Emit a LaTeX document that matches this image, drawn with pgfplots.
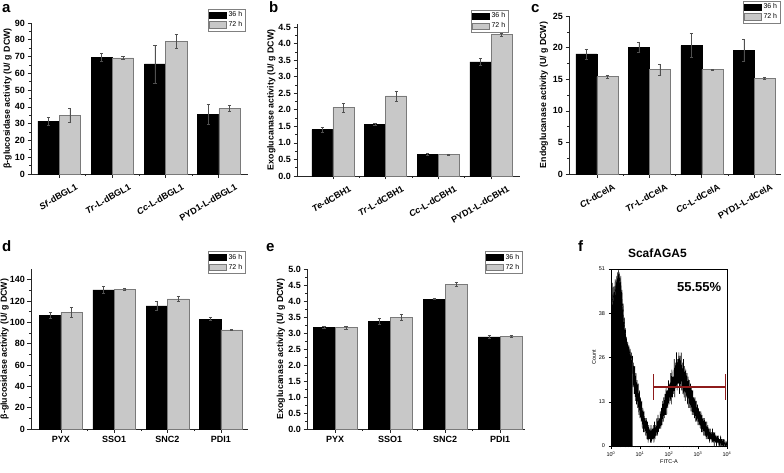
\documentclass[border=0pt]{standalone}
\usepackage{fontspec}
\setmainfont{Liberation Sans}
\usepackage{pgfplots}
\pgfplotsset{compat=1.18}
\definecolor{barlight}{HTML}{C8C8C8}
\definecolor{barline}{HTML}{7A7A7A}
\definecolor{errgray}{HTML}{505050}
\definecolor{gatered}{HTML}{8E1B1B}
\pgfplotsset{
  /pgfplots/ybar legend/.style={/pgfplots/legend image code/.code={\draw[##1,/tikz/.cd] (0pt,-3.1pt) rectangle (17pt,3.1pt);}},
  barpanel/.style={
    scale only axis,
    ybar=0pt,
    bar width=0.4,
    axis x line*=bottom, axis y line*=left,
    axis line style={black!85, line width=0.6pt, -},
    tick style={black!85, line width=0.6pt},
    tick align=outside,
    major tick length=3.5pt, minor tick length=2pt,
    xtick={0,1,2,3}, minor xtick={0.5,1.5,2.5},
    ymin=0,
    tick label style={font=\bfseries\fontsize{9}{10}\selectfont},
    yticklabel style={xshift=1pt},
    label style={font=\bfseries\fontsize{8.8}{10}\selectfont},
    /pgf/number format/assume math mode=true,
    minor y tick num=1,
    legend style={draw=gray, line width=0.4pt, font=\fontsize{7}{7}\selectfont, inner sep=0.6pt, row sep=-0.8pt, anchor=north east},
    legend cell align=left,
    clip=false,
  },
  ylabpos/.style={ylabel style={at={(axis description cs:#1,0.5)}, anchor=center, rotate=0}},
  rotlabels/.style={xticklabel style={xshift=17pt, yshift=-1pt, rotate=30, anchor=north east}},
  darkbar/.style={fill=black, draw=black, line width=0.5pt,
    /pgfplots/error bars/y dir=both, /pgfplots/error bars/y explicit,
    /pgfplots/error bars/error bar style={errgray, line width=0.5pt},
    /pgfplots/error bars/error mark options={rotate=90, errgray, mark size=1.6pt, line width=0.5pt}},
  lightbar/.style={fill=barlight, draw=barline, line width=0.5pt,
    /pgfplots/error bars/y dir=both, /pgfplots/error bars/y explicit,
    /pgfplots/error bars/error bar style={errgray, line width=0.5pt},
    /pgfplots/error bars/error mark options={rotate=90, errgray, mark size=1.6pt, line width=0.5pt}},
}
\begin{document}
\begin{tikzpicture}
\useasboundingbox (0,0) rectangle (784pt,472pt);
% ---------- a
\begin{axis}[barpanel, rotlabels, ylabpos=-0.108, at={(31pt,298pt)}, anchor=south west,
  width=217pt, height=151pt, xmin=-0.53, xmax=3.55, ymax=90,
  ytick={0,10,...,90},
  xticklabels={\textit{Sf}-dBGL1,\textit{Tr}-L-dBGL1,\textit{Cc}-L-dBGL1,PYD1-L-dBGL1},
  ylabel={β-glucosidase activity (U/ g DCW)},
  legend style={at={(0.986,1.093)}}]
\addplot[darkbar] coordinates {(0,31.5)+-(0,2.4) (1,69.7)+-(0,2.5) (2,65.6)+-(0,11.4) (3,35.5)+-(0,6)};
\addplot[lightbar] coordinates {(0,35)+-(0,4.2) (1,69.2)+-(0,1) (2,79)+-(0,4) (3,39)+-(0,1.8)};
\legend{36 h,72 h}
\end{axis}
% ---------- b
\begin{axis}[barpanel, rotlabels, ylabpos=-0.115, at={(297pt,296pt)}, anchor=south west,
  width=223pt, height=152.3pt, xmin=-0.68, xmax=3.55, ymax=4.6,
  ytick={0,0.5,1,1.5,2,2.5,3,3.5,4,4.5},
  yticklabel style={/pgf/number format/.cd, fixed, fixed zerofill, precision=1},
  xticklabels={\textit{Te}-dCBH1,\textit{Tr}-L-dCBH1,\textit{Cc}-L-dCBH1,PYD1-L-dCBH1},
  ylabel={Exoglucanase activity (U/ g DCW)},
  legend style={at={(0.946,1.09)}}]
\addplot[darkbar] coordinates {(0,1.4)+-(0,0.07) (1,1.56)+-(0,0.04) (2,0.65)+-(0,0.03) (3,3.45)+-(0,0.1)};
\addplot[lightbar] coordinates {(0,2.07)+-(0,0.13) (1,2.42)+-(0,0.15) (2,0.65)+-(0,0.02) (3,4.27)+-(0,0.04)};
\legend{36 h,72 h}
\end{axis}
% ---------- c
\begin{axis}[barpanel, rotlabels, ylabpos=-0.118, at={(569pt,298pt)}, anchor=south west,
  width=212pt, height=158pt, xmin=-0.53, xmax=3.51, ymax=25,
  ytick={0,5,...,25},
  xticklabels={\textit{Ct}-dCelA,\textit{Tr}-L-dCelA,\textit{Cc}-L-dCelA,PYD1-L-dCelA},
  ylabel={Endoglucanase activity (U/ g DCW)},
  legend style={at={(0.995,1.095)}}]
\addplot[darkbar] coordinates {(0,19)+-(0,0.8) (1,20)+-(0,0.8) (2,20.3)+-(0,1.9) (3,19.6)+-(0,1.8)};
\addplot[lightbar] coordinates {(0,15.4)+-(0,0.2) (1,16.5)+-(0,0.9) (2,16.5)+-(0,0.1) (3,15.1)+-(0,0.15)};
\legend{36 h,72 h}
\end{axis}
% ---------- d
\begin{axis}[barpanel, ylabpos=-0.122, at={(31pt,43pt)}, anchor=south west,
  width=217pt, height=160pt, xmin=-0.56, xmax=3.51, ymax=150,
  ytick={0,20,...,140},
  xticklabels={PYX,SSO1,SNC2,PDI1},
  ylabel={β-glucosidase activity (U/ g DCW)},
  legend style={at={(0.986,1.11)}}]
\addplot[darkbar] coordinates {(0,106.5)+-(0,2.5) (1,130.5)+-(0,3) (2,115.5)+-(0,4) (3,103)+-(0,1.5)};
\addplot[lightbar] coordinates {(0,109.5)+-(0,4.5) (1,131)+-(0,1) (2,122)+-(0,2.5) (3,93)+-(0,0.3)};
\legend{36 h,72 h}
\end{axis}
% ---------- e
\begin{axis}[barpanel, ylabpos=-0.12, at={(307pt,43pt)}, anchor=south west,
  width=218pt, height=160pt, xmin=-0.51, xmax=3.45, ymax=5,
  ytick={0,0.5,1,1.5,2,2.5,3,3.5,4,4.5,5},
  yticklabel style={/pgf/number format/.cd, fixed, fixed zerofill, precision=1},
  xticklabels={PYX,SSO1,SNC2,PDI1},
  ylabel={Exoglucanase activity (U/ g DCW)},
  legend style={at={(0.986,1.11)}}]
\addplot[darkbar] coordinates {(0,3.18)+-(0,0.02) (1,3.37)+-(0,0.1) (2,4.06)+-(0,0.02) (3,2.88)+-(0,0.04)};
\addplot[lightbar] coordinates {(0,3.17)+-(0,0.04) (1,3.5)+-(0,0.1) (2,4.53)+-(0,0.07) (3,2.9)+-(0,0.03)};
\legend{36 h,72 h}
\end{axis}
% ---------- f
\begin{axis}[scale only axis, at={(611pt,26pt)}, anchor=south west,
  width=116pt, height=177pt, xmin=0, xmax=4, ymin=0, ymax=51,
  axis line style={black, line width=0.5pt},
  tick style={black, line width=0.4pt}, tick align=outside,
  xtick pos=bottom, ytick pos=left,
  major tick length=2.5pt, minor tick length=1.3pt,
  xtick={0,1,2,3,4},
  xticklabels={10\textsuperscript{0},10\textsuperscript{1},10\textsuperscript{2},10\textsuperscript{3},10\textsuperscript{4}},
  minor xtick={0.301,0.477,0.602,0.699,0.778,0.845,0.903,0.954,1.301,1.477,1.602,1.699,1.778,1.845,1.903,1.954,2.301,2.477,2.602,2.699,2.778,2.845,2.903,2.954,3.301,3.477,3.602,3.699,3.778,3.845,3.903,3.954},
  ytick={0,12.75,25.5,38.25,51}, yticklabels={0,13,26,38,51},
  tick label style={font=\fontsize{5.5}{6}\selectfont},
  xlabel={FITC-A}, ylabel={Count},
  label style={font=\fontsize{5.5}{6}\selectfont},
  xlabel style={yshift=4pt}, ylabel style={yshift=-4pt},
  title={\bfseries ScafAGA5}, title style={font=\fontsize{12}{13}\selectfont, at={(0.4,1)}, yshift=2pt},
  /pgf/number format/assume math mode=true]
\addplot[fill=black, draw=black, line width=0.3pt] coordinates {
(0.00,41) (0.02,45) (0.04,39) (0.06,47) (0.08,40) (0.10,46) (0.12,41) (0.14,48) (0.16,42) (0.18,49)
(0.20,43) (0.22,50) (0.24,45) (0.26,51) (0.28,46) (0.30,50) (0.32,44) (0.34,49) (0.36,42) (0.38,45)
(0.40,38) (0.42,41) (0.44,35) (0.46,37) (0.48,32) (0.50,34) (0.52,30) (0.54,31) (0.56,28) (0.58,30)
(0.60,27) (0.62,29) (0.64,26) (0.66,28) (0.68,25) (0.70,27) (0.72,24) (0.74,25)} \closedcycle;
\addplot[black, line width=0.6pt] coordinates {
(0.74,26) (0.76,17) (0.78,24) (0.80,15) (0.82,23) (0.84,13) (0.86,21) (0.88,12) (0.90,19) (0.92,11)
(0.94,18) (0.96,9) (0.98,16) (1.00,8) (1.02,14) (1.04,7) (1.06,13) (1.08,5) (1.10,11) (1.12,4)
(1.14,10) (1.16,4) (1.18,8) (1.20,3) (1.22,8) (1.24,2) (1.26,7) (1.28,1) (1.30,6) (1.32,2)
(1.34,5) (1.36,1) (1.38,6) (1.40,1) (1.42,5) (1.44,2) (1.46,6) (1.48,1) (1.50,7) (1.52,2)
(1.54,6) (1.56,3) (1.58,8) (1.60,3) (1.62,9) (1.64,4) (1.66,8) (1.68,5) (1.70,10) (1.72,5)
(1.74,11) (1.76,6) (1.78,13) (1.80,7) (1.82,14) (1.84,8) (1.86,15) (1.88,9) (1.90,17) (1.92,9)
(1.94,16) (1.96,11) (1.98,19) (2.00,12) (2.02,18) (2.04,13) (2.06,21) (2.08,12) (2.10,22) (2.12,14)
(2.14,20) (2.16,15) (2.18,25) (2.20,14) (2.22,24) (2.24,17) (2.26,27) (2.28,16) (2.30,25) (2.32,18)
(2.34,27) (2.36,15) (2.38,26) (2.40,17) (2.42,27) (2.44,16) (2.46,24) (2.48,15) (2.50,25) (2.52,14)
(2.54,23) (2.56,13) (2.58,22) (2.60,14) (2.62,21) (2.64,12) (2.66,20) (2.68,11) (2.70,19) (2.72,11)
(2.74,18) (2.76,10) (2.78,17) (2.80,9) (2.82,16) (2.84,9) (2.86,14) (2.88,8) (2.90,14) (2.92,7)
(2.94,13) (2.96,7) (2.98,12) (3.00,6) (3.02,11) (3.04,6) (3.06,10) (3.08,5) (3.10,10) (3.12,4)
(3.14,9) (3.16,4) (3.18,8) (3.20,3) (3.22,8) (3.24,3) (3.26,7) (3.28,2) (3.30,7) (3.32,2)
(3.34,6) (3.36,2) (3.38,5) (3.40,1) (3.42,5) (3.44,2) (3.46,4) (3.48,1) (3.50,5) (3.52,1)
(3.54,4) (3.56,0) (3.58,4) (3.60,1) (3.62,3) (3.64,0) (3.66,3) (3.68,1) (3.70,3) (3.72,0)
(3.74,2) (3.76,0) (3.78,3) (3.80,0) (3.82,2) (3.84,0) (3.86,2) (3.88,0) (3.90,2) (3.92,0)
(3.94,1) (3.96,0) (3.98,1) (4.00,0)};
\addplot[gatered, line width=1.3pt] coordinates {(1.47,17) (3.95,17)};
\addplot[gatered, line width=1.3pt] coordinates {(1.47,13.3) (1.47,20.7)};
\addplot[gatered, line width=1.3pt] coordinates {(3.95,13.3) (3.95,20.7)};
\node[anchor=east, font=\bfseries\fontsize{13}{14}\selectfont] at (rel axis cs:0.98,0.9) {55.55\%};
\end{axis}
% ---------- panel letters
\node[anchor=base west, font=\bfseries\fontsize{15}{16}\selectfont, inner sep=0pt] at (2pt,459pt) {a};
\node[anchor=base west, font=\bfseries\fontsize{15}{16}\selectfont, inner sep=0pt] at (269pt,459pt) {b};
\node[anchor=base west, font=\bfseries\fontsize{15}{16}\selectfont, inner sep=0pt] at (531pt,459pt) {c};
\node[anchor=base west, font=\bfseries\fontsize{15}{16}\selectfont, inner sep=0pt] at (2pt,221pt) {d};
\node[anchor=base west, font=\bfseries\fontsize{15}{16}\selectfont, inner sep=0pt] at (266pt,221pt) {e};
\node[anchor=base west, font=\bfseries\fontsize{15}{16}\selectfont, inner sep=0pt] at (578pt,221pt) {f};
\end{tikzpicture}
\end{document}
